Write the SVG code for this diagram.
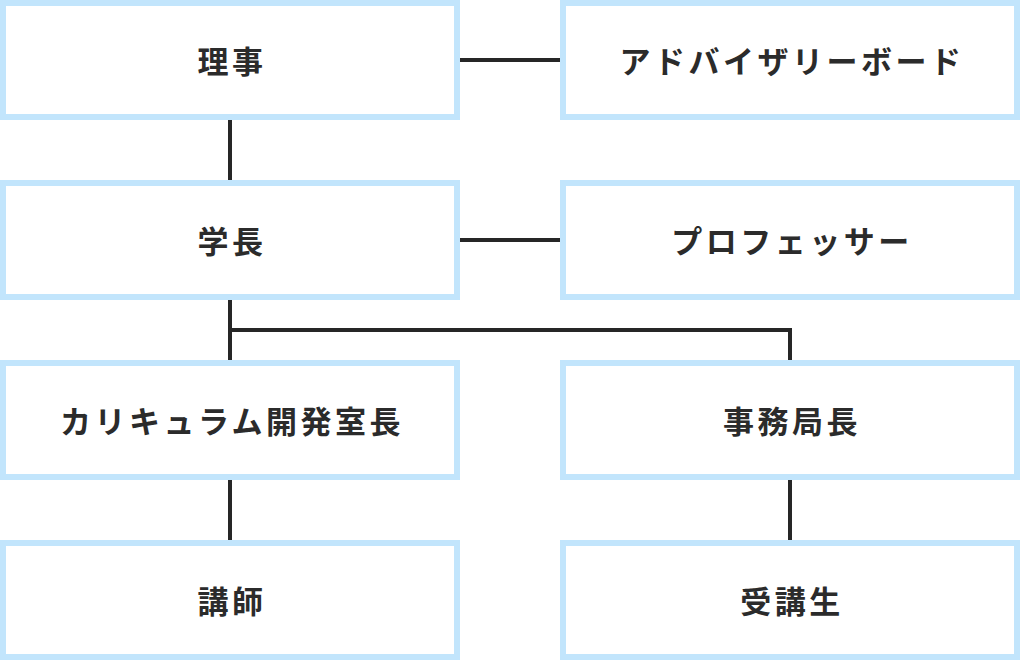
<svg xmlns="http://www.w3.org/2000/svg" width="1020" height="660" viewBox="0 0 1020 660">
<style>
.b{fill:#fff;stroke:#c2e5fc;stroke-width:6}
.t{font-family:"Noto Sans CJK JP",sans-serif;font-size:31px;font-weight:bold;fill:#2b2b2b;text-anchor:middle;dominant-baseline:central;letter-spacing:3.5px}
.c{stroke:#262626;stroke-width:4;fill:none}
</style>
<rect width="1020" height="660" fill="#fff"/>
<g id="connectors">
<path class="c" d="M460 60H560M460 240H560M230 120V180M230 300V360M230 330H790V360M230 480V540M790 480V540"/>
</g>
<g id="n1"><rect class="b" x="3" y="3" width="454" height="114"/><text class="t" x="232" y="59">理事</text></g>
<g id="n2"><rect class="b" x="563" y="3" width="454" height="114"/><text class="t" x="792" y="59">アドバイザリーボード</text></g>
<g id="n3"><rect class="b" x="3" y="183" width="454" height="114"/><text class="t" x="232" y="239">学長</text></g>
<g id="n4"><rect class="b" x="563" y="183" width="454" height="114"/><text class="t" x="792" y="239">プロフェッサー</text></g>
<g id="n5"><rect class="b" x="3" y="363" width="454" height="114"/><text class="t" x="232" y="419">カリキュラム開発室長</text></g>
<g id="n6"><rect class="b" x="563" y="363" width="454" height="114"/><text class="t" x="792" y="419">事務局長</text></g>
<g id="n7"><rect class="b" x="3" y="543" width="454" height="114"/><text class="t" x="232" y="599">講師</text></g>
<g id="n8"><rect class="b" x="563" y="543" width="454" height="114"/><text class="t" x="792" y="599">受講生</text></g>
</svg>
